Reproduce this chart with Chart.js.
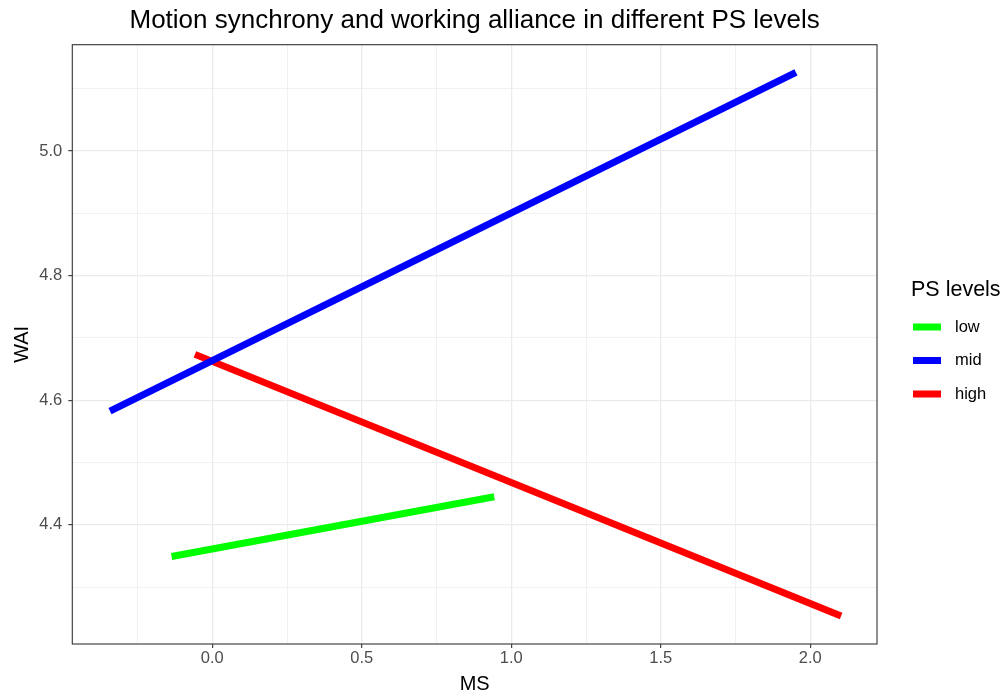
<!DOCTYPE html>
<html>
<head>
<meta charset="utf-8">
<script src="https://cdn.jsdelivr.net/npm/chart.js@4.4.1/dist/chart.umd.min.js"></script>
<style>
  body { margin: 0; background: #fff; }
</style>
</head>
<body>
<canvas id="grafico" width="1003" height="696"></canvas>
<script>
// Lineas de cada nivel de PS (extremos)
const lowX = [-0.136, 0.943];
const lowY = [4.349, 4.445];
const midX = [-0.342, 1.952];
const midY = [4.5825, 5.1264];
const highX = [-0.058, 2.103];
const highY = [4.6735, 4.2534];

const niveles = ['low', 'mid', 'high'];
const colores = ['#00ff00', '#0000ff', '#ff0000'];

// ticks (mayores con etiqueta, menores solo linea)
const xTicks = [-0.25, 0, 0.25, 0.5, 0.75, 1.0, 1.25, 1.5, 1.75, 2.0];
const xMajor = [0, 0.5, 1.0, 1.5, 2.0];
const yTicks = [4.3, 4.4, 4.5, 4.6, 4.7, 4.8, 4.9, 5.0, 5.1];
const yMajor = [4.4, 4.6, 4.8, 5.0];

const titulo = 'Motion synchrony and working alliance in different PS levels';
const tituloLeyenda = 'PS levels';
const fuente = '"Liberation Sans", Arial, sans-serif';

function esMayor(lista, v) {
    return lista.some(m => Math.abs(m - v) < 1e-9);
}

function puntos(xs, ys) {
    return xs.map((x, i) => ({ x: x, y: ys[i] }));
}

// borde del panel y leyenda al estilo ggplot
const panelLeyenda = {
    id: 'panelLeyenda',
    afterDraw(chart) {
        const ctx = chart.ctx;
        const a = chart.chartArea;
        ctx.save();
        ctx.strokeStyle = '#333333';
        ctx.lineWidth = 1.1;
        ctx.strokeRect(a.left, a.top, a.right - a.left, a.bottom - a.top);

        ctx.fillStyle = '#000';
        ctx.font = '21.5px ' + fuente;
        ctx.textBaseline = 'middle';
        ctx.textAlign = 'left';
        ctx.fillText(tituloLeyenda, 911, 290);

        ctx.font = '16.5px ' + fuente;
        chart.data.datasets.forEach((ds, i) => {
            const y = 327 + i * 33.5;
            ctx.fillStyle = ds.borderColor;
            ctx.fillRect(913, y - 3.5, 28, 7);
            ctx.fillStyle = '#000';
            ctx.fillText(ds.label, 955, y);
        });
        ctx.restore();
    }
};

const ctx = document.getElementById('grafico');
new Chart(ctx, {
    type: 'scatter',
    data: {
        datasets: [
            { label: niveles[0], data: puntos(lowX, lowY), borderColor: colores[0] },
            { label: niveles[1], data: puntos(midX, midY), borderColor: colores[1] },
            { label: niveles[2], data: puntos(highX, highY), borderColor: colores[2] }
        ].map(d => Object.assign(d, {
            showLine: true,
            borderWidth: 7,
            pointRadius: 0,
            pointHoverRadius: 0,
            backgroundColor: d.borderColor
        }))
    },
    options: {
        responsive: false,
        animation: false,
        layout: { padding: { left: 0, right: 126, top: 0, bottom: 0 } },
        plugins: {
            legend: { display: false },
            tooltip: { enabled: false },
            title: {
                display: true,
                text: titulo,
                fullSize: false,
                color: '#000',
                font: { family: fuente, size: 26, weight: 'normal' },
                padding: { top: 5.5, bottom: 8 }
            }
        },
        scales: {
            x: {
                type: 'linear',
                min: -0.468,
                max: 2.223,
                afterBuildTicks: s => { s.ticks = xTicks.map(v => ({ value: v })); },
                afterFit: s => { s.height = 52; },
                title: {
                    display: true,
                    text: 'MS',
                    color: '#000',
                    font: { family: fuente, size: 20 },
                    padding: { top: 0, bottom: 0 }
                },
                ticks: {
                    autoSkip: false,
                    maxRotation: 0,
                    color: '#4d4d4d',
                    padding: 1,
                    font: { family: fuente, size: 16.5 },
                    callback: v => esMayor(xMajor, v) ? v.toFixed(1) : ''
                },
                grid: {
                    color: '#ebebeb',
                    lineWidth: c => esMayor(xMajor, c.tick.value) ? 1.3 : 0.7,
                    tickLength: 4,
                    tickColor: c => esMayor(xMajor, c.tick.value) ? '#333333' : 'rgba(0,0,0,0)',
                    tickWidth: 1.1
                },
                border: { display: false }
            },
            y: {
                type: 'linear',
                min: 4.2085,
                max: 5.1707,
                afterBuildTicks: s => { s.ticks = yTicks.map(v => ({ value: v })); },
                afterFit: s => { s.width = 72.3; },
                title: {
                    display: true,
                    text: 'WAI',
                    color: '#000',
                    font: { family: fuente, size: 20 },
                    padding: { top: 10.5, bottom: 0 }
                },
                ticks: {
                    autoSkip: false,
                    color: '#4d4d4d',
                    padding: 6,
                    font: { family: fuente, size: 16.5 },
                    callback: v => esMayor(yMajor, v) ? v.toFixed(1) : ''
                },
                grid: {
                    color: '#ebebeb',
                    lineWidth: c => esMayor(yMajor, c.tick.value) ? 1.3 : 0.7,
                    tickLength: 4,
                    tickColor: c => esMayor(yMajor, c.tick.value) ? '#333333' : 'rgba(0,0,0,0)',
                    tickWidth: 1.1
                },
                border: { display: false }
            }
        }
    },
    plugins: [panelLeyenda]
});
</script>
</body>
</html>
